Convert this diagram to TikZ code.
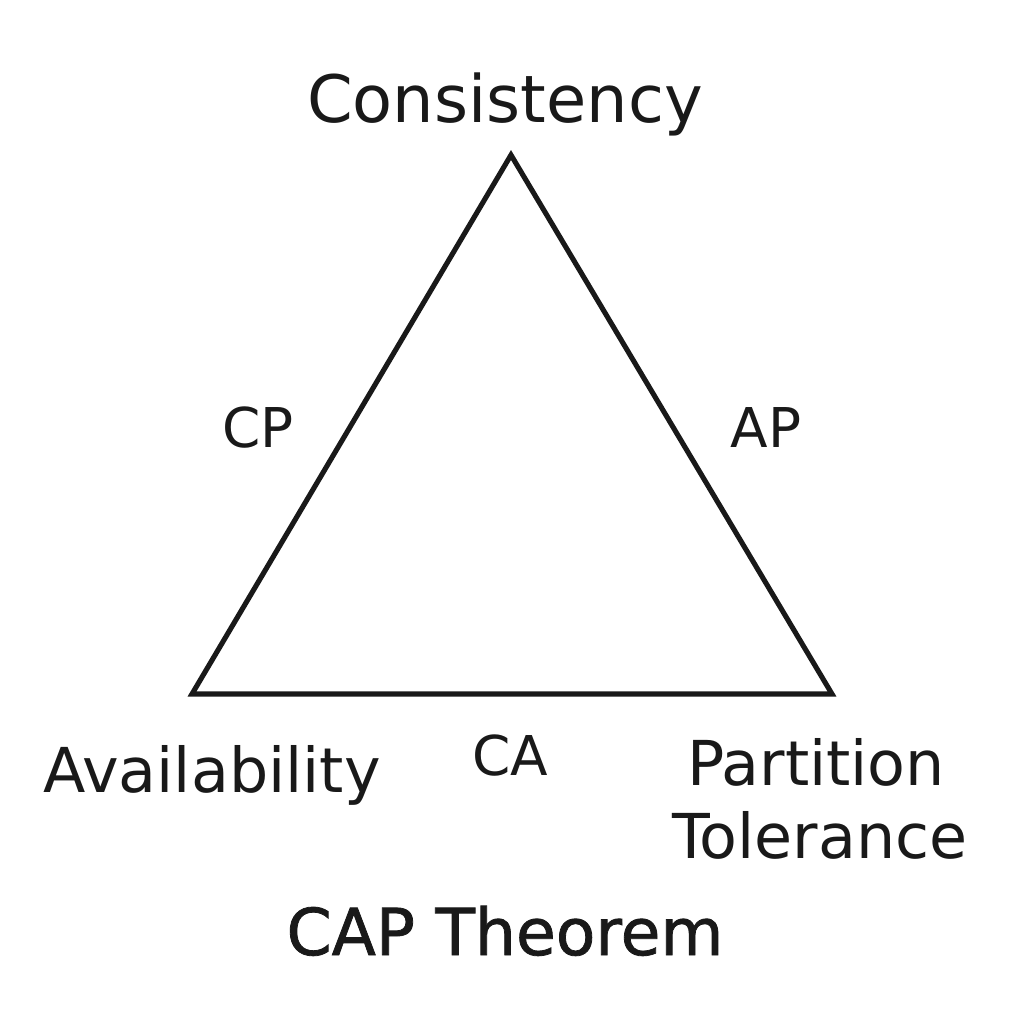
\documentclass[tikz,border=0pt]{standalone}
\usepackage{fontspec}
\setmainfont{DejaVu Sans}
\newfontfamily\titlefont[FakeBold=1.2]{DejaVu Sans}
\begin{document}
\begin{tikzpicture}[x=0.01cm,y=-0.01cm,
  lbl/.style={inner sep=0pt,anchor=base,text=black!90},
  big/.style={lbl,font=\fontsize{18.6pt}{22pt}\selectfont},
  mid/.style={lbl,font=\fontsize{17.6pt}{21pt}\selectfont},
  small/.style={lbl,font=\fontsize{15.6pt}{19pt}\selectfont},
  edge/.style={line width=1.45pt,line join=miter,black!90}]
\useasboundingbox (0,0) rectangle (1024,1024);
\coordinate (C) at (511,155);
\coordinate (A) at (192,694);
\coordinate (P) at (832,694);
\draw[edge] (C) -- (A) -- (P) -- cycle;
\node[big] (tC) at (505,122) {Consistency};
\node[mid] (tA) at (212,792) {Availability};
\node[mid] (tP1) at (816,785) {Partition};
\node[mid] (tP2) at (820,858) {Tolerance};
\node[small] (cp) at (258,447) {CP};
\node[small] (ap) at (766,447) {AP};
\node[small] (ca) at (510,775) {CA};
\node[lbl,font=\titlefont\fontsize{18.4pt}{22pt}\selectfont] (title) at (505,955) {CAP Theorem};
\end{tikzpicture}
\end{document}
